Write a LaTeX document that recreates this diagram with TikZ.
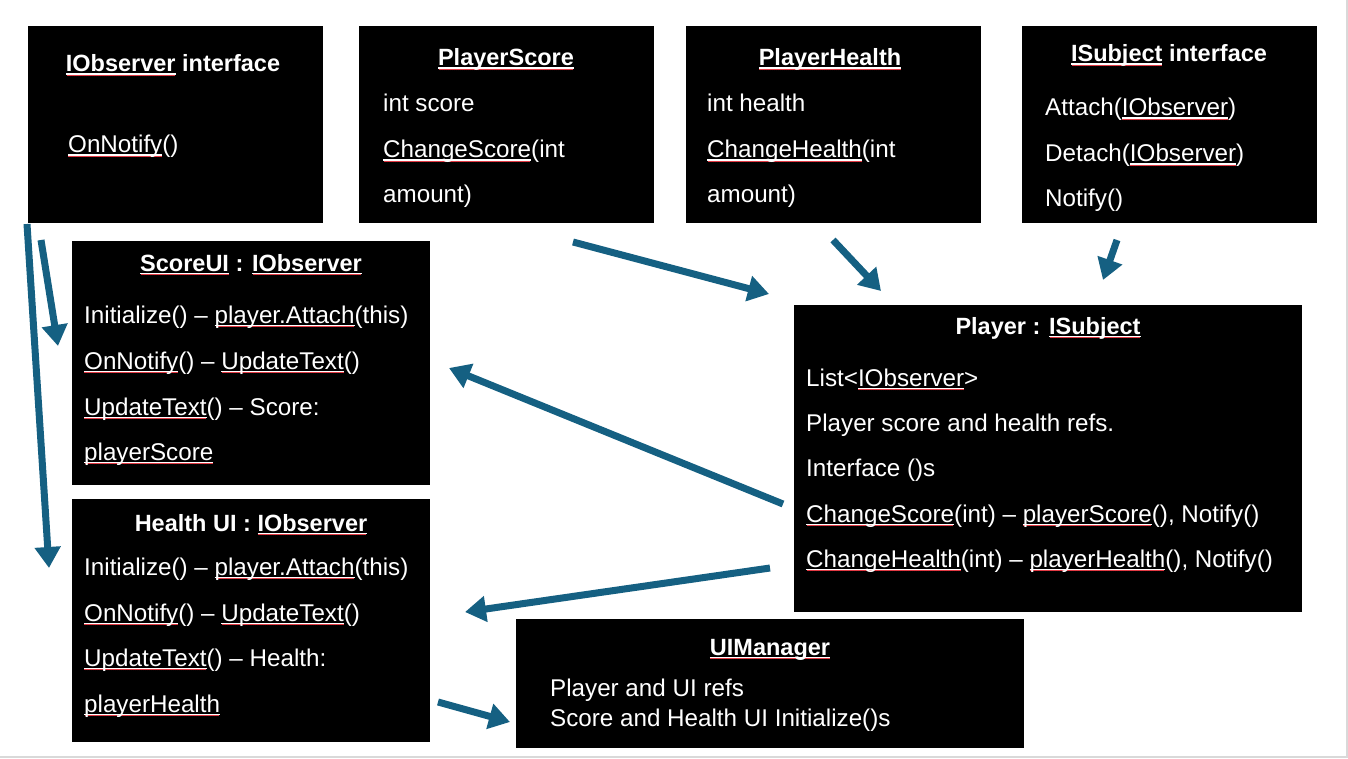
\documentclass[tikz,border=0pt]{standalone}
\usepackage{fontspec}
\setmainfont{Liberation Sans}
\usetikzlibrary{arrows.meta}

\definecolor{flowblue}{HTML}{156082}
\definecolor{spellred}{HTML}{E23A44}

% spell-check style underline: thin white rule with a red zigzag right below it
\newsavebox\sqwave
\newsavebox\sqtmp
\sbox\sqwave{\color{spellred}\vrule width 1pt height -2.7pt depth 3.7pt\vrule width 1pt height -3.4pt depth 4.4pt}
\newcommand\sq[1]{\sbox\sqtmp{#1}%
  \rlap{\color{white}\vrule height -1.5pt depth 2.7pt width \wd\sqtmp}%
  \rlap{\hbox to \wd\sqtmp{\cleaders\copy\sqwave\hfil}}%
  \usebox\sqtmp}

\tikzset{
  box/.style={fill=black, anchor=north west, inner sep=0pt, outer sep=0pt},
  txt/.style={text=white, font=\fontsize{24.2}{28}\selectfont, inner sep=0pt, anchor=base west},
  ttl/.style={text=white, font=\fontsize{23.5}{28}\selectfont\bfseries, inner sep=0pt, anchor=base},
  flow/.style={draw=flowblue, line width=7pt, -{Triangle[width=25pt,length=21pt]}}
}

\begin{document}
\begin{tikzpicture}[x=1pt,y=-1pt]
	\useasboundingbox (0,0) rectangle (1348,759);
	\draw[gray!30, line width=1.5pt] (0,757) -- (1347,757) -- (1347,0);
	% the class boxes
	\node[box, minimum width=295pt, minimum height=197pt] (iobs) at (28,26) {};
	\node[box, minimum width=295pt, minimum height=197pt] (pscore) at (359,26) {};
	\node[box, minimum width=295pt, minimum height=197pt] (phealth) at (686,26) {};
	\node[box, minimum width=295pt, minimum height=197pt] (isub) at (1022,26) {};
	\node[box, minimum width=358pt, minimum height=244pt] (scoreui) at (72,241) {};
	\node[box, minimum width=358pt, minimum height=243pt] (healthui) at (72,499) {};
	\node[box, minimum width=508pt, minimum height=307pt] (player) at (794,305) {};
	\node[box, minimum width=508pt, minimum height=129pt] (uiman) at (516,619) {};
	% IObserver interface
	\node[ttl] (iobsT) at (173,72) {\sq{IObserver} interface};
	\node[txt] (iobs1) at (68,153) {\sq{OnNotify}()};
	% PlayerScore
	\node[ttl] (pscoreT) at (506,66) {\sq{PlayerScore}};
	\node[txt] (pscore1) at (383,112) {int score};
	\node[txt] (pscore2) at (383,158) {\sq{ChangeScore}(int};
	\node[txt] (pscore3) at (383,203) {amount)};
	% PlayerHealth
	\node[ttl] (phealthT) at (830,66) {\sq{PlayerHealth}};
	\node[txt] (phealth1) at (707,112) {int health};
	\node[txt] (phealth2) at (707,158) {\sq{ChangeHealth}(int};
	\node[txt] (phealth3) at (707,203) {amount)};
	% ISubject interface
	\node[ttl] (isubT) at (1169,62) {\sq{ISubject} interface};
	\node[txt] (isub1) at (1045,116) {Attach(\sq{IObserver})};
	\node[txt] (isub2) at (1045,162) {Detach(\sq{IObserver})};
	\node[txt] (isub3) at (1045,207) {Notify()};
	% ScoreUI
	\node[ttl] (scoreuiT) at (251,271) {\sq{ScoreUI} : \sq{IObserver}};
	\node[txt] (scoreui1) at (84,323) {Initialize() \textendash{} \sq{player.Attach}(this)};
	\node[txt] (scoreui2) at (84,369) {\sq{OnNotify}() \textendash{} \sq{UpdateText}()};
	\node[txt] (scoreui3) at (84,415) {\sq{UpdateText}() \textendash{} Score:};
	\node[txt] (scoreui4) at (84,460) {\sq{playerScore}};
	% Health UI
	\node[ttl] (healthuiT) at (251,531) {Health UI : \sq{IObserver}};
	\node[txt] (healthui1) at (84,575) {Initialize() \textendash{} \sq{player.Attach}(this)};
	\node[txt] (healthui2) at (84,621) {\sq{OnNotify}() \textendash{} \sq{UpdateText}()};
	\node[txt] (healthui3) at (84,666) {\sq{UpdateText}() \textendash{} Health:};
	\node[txt] (healthui4) at (84,712) {\sq{playerHealth}};
	% Player
	\node[ttl] (playerT) at (1048,334) {Player : \sq{ISubject}};
	\node[txt] (player1) at (806,386) {List<\sq{IObserver}>};
	\node[txt] (player2) at (806,431) {Player score and health refs.};
	\node[txt] (player3) at (806,476) {Interface ()s};
	\node[txt] (player4) at (806,522) {\sq{ChangeScore}(int) \textendash{} \sq{playerScore}(), Notify()};
	\node[txt] (player5) at (806,567) {\sq{ChangeHealth}(int) \textendash{} \sq{playerHealth}(), Notify()};
	% UIManager
	\node[ttl] (uimanT) at (770,655) {\sq{UIManager}};
	\node[txt] (uiman1) at (550,696) {Player and UI refs};
	\node[txt] (uiman2) at (550,726) {Score and Health UI Initialize()s};
	% arrow ends
	\coordinate (obsA) at (27,224);   \coordinate (healthuiIn) at (49,568);
	\coordinate (obsB) at (41,240);   \coordinate (scoreuiIn) at (58,346);
	\coordinate (pscoreOut) at (573,242);  \coordinate (playerInA) at (769,294);
	\coordinate (phealthOut) at (833,240); \coordinate (playerInB) at (881,291);
	\coordinate (isubOut) at (1117,240);   \coordinate (playerInC) at (1103,280);
	\coordinate (playerOutA) at (783,504); \coordinate (scoreuiInB) at (449,368);
	\coordinate (playerOutB) at (770,568); \coordinate (healthuiInB) at (465,612);
	\coordinate (healthuiOut) at (438,702); \coordinate (uimanIn) at (510,722);
	% arrows
	\draw[flow] (obsA) -- (healthuiIn);
	\draw[flow] (obsB) -- (scoreuiIn);
	\draw[flow] (pscoreOut) -- (playerInA);
	\draw[flow] (phealthOut) -- (playerInB);
	\draw[flow] (isubOut) -- (playerInC);
	\draw[flow] (playerOutA) -- (scoreuiInB);
	\draw[flow] (playerOutB) -- (healthuiInB);
	\draw[flow] (healthuiOut) -- (uimanIn);
\end{tikzpicture}
\end{document}
